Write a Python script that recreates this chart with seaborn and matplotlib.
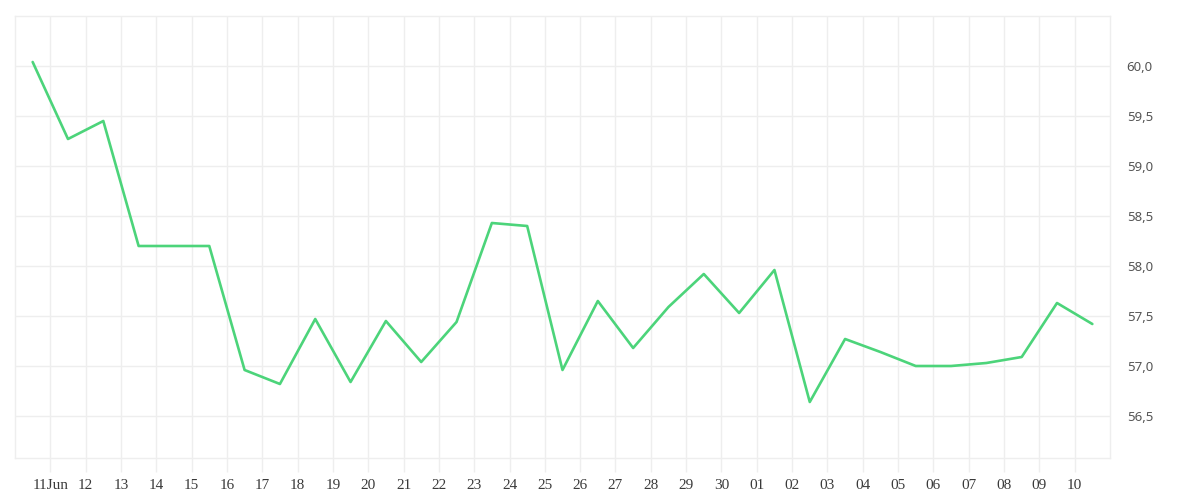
import matplotlib
matplotlib.use("Agg")
import matplotlib.pyplot as plt
import seaborn as sns
import pandas as pd

# ---- data ----
start = "2023-06-10 12:00"
values = [60.04, 59.27, 59.45, 58.20, 58.20, 58.20, 56.96, 56.82, 57.47, 56.84,
          57.45, 57.04, 57.44, 58.43, 58.40, 56.96, 57.65, 57.18, 57.59, 57.92,
          57.53, 57.96, 56.64, 57.27, 57.14, 57.00, 57.00, 57.03, 57.09, 57.63,
          57.42]
tick_days = pd.date_range("2023-06-11", "2023-07-10", freq="D")
tick_labels = ["11Jun"] + [d.strftime("%d") for d in tick_days[1:]]
y_ticks = [56.5, 57.0, 57.5, 58.0, 58.5, 59.0, 59.5, 60.0]

df = pd.DataFrame({"date": pd.date_range(start, periods=len(values), freq="D"),
                   "value": values})

sns.set_theme(style="white")
plt.rcParams["font.family"] = ["Noto Sans", "DejaVu Sans"]

fig = plt.figure(figsize=(12, 5), dpi=100)
ax = fig.add_axes([15 / 1200, 1 - 458 / 500, (1110 - 15) / 1200, (458 - 16) / 500])

sns.lineplot(data=df, x="date", y="value", ax=ax, color="#4cd47a", linewidth=1.9)

grid_c = "#eeeeee"
ax.set_xlim(pd.Timestamp("2023-06-10"), pd.Timestamp("2023-07-11"))
ax.set_ylim(56.08, 60.5)

ax.set_xticks(tick_days)
ax.set_xticklabels(tick_labels, family=["Liberation Serif", "DejaVu Serif"],
                   fontsize=11, color="#3a3a3a")
ax.set_yticks(y_ticks)
ax.set_yticklabels([f"{v:.1f}".replace(".", ",") for v in y_ticks],
                   family=["Noto Sans", "DejaVu Sans"],
                   fontsize=9.5, color="#555555")
ax.yaxis.tick_right()

ax.grid(True, color=grid_c, linewidth=1)
ax.set_axisbelow(True)
ax.tick_params(axis="x", length=10, width=1, color=grid_c, pad=5, bottom=True)
ax.tick_params(axis="y", length=0, pad=12, right=True, left=False)
for sp in ax.spines.values():
    sp.set_color(grid_c)
    sp.set_linewidth(1)
ax.set_xlabel("")
ax.set_ylabel("")

fig.savefig("out.png", dpi=100)
